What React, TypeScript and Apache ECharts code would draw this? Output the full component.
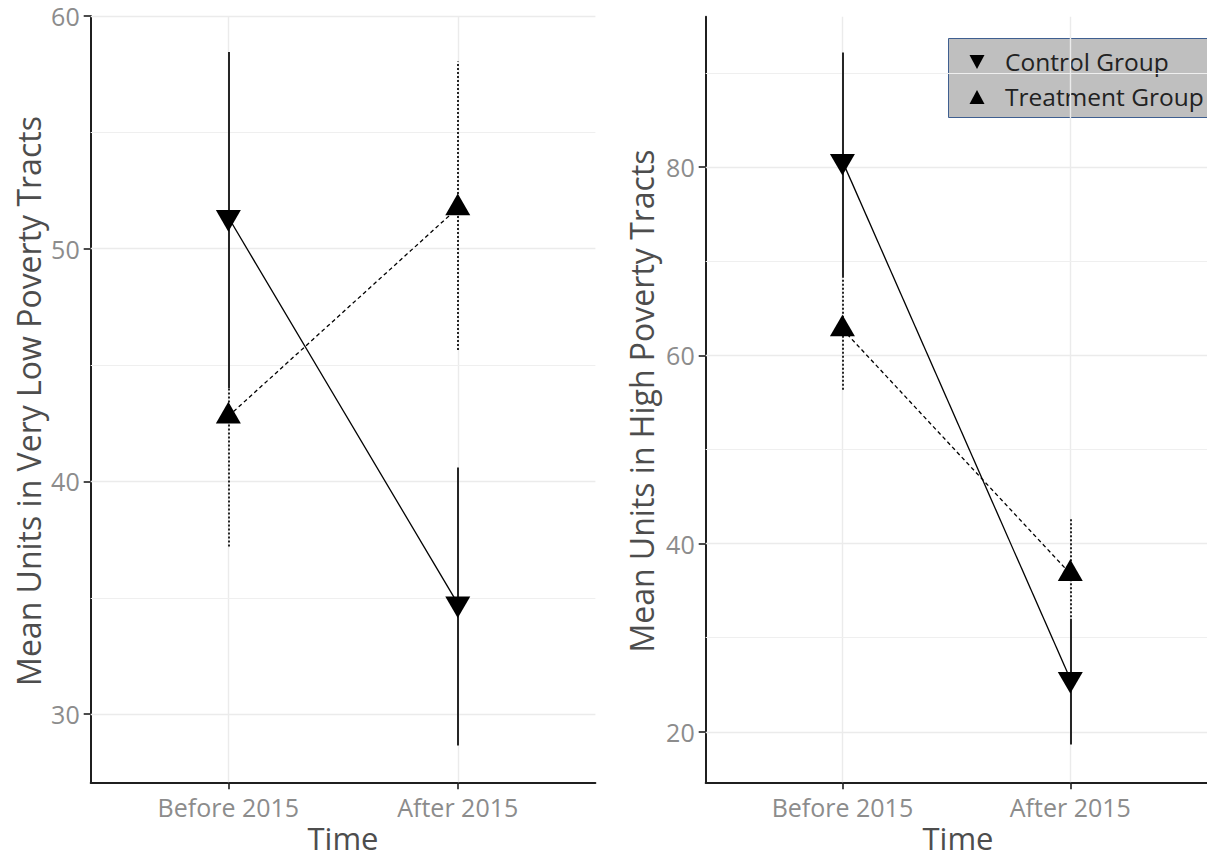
import React, { useEffect, useRef } from "react";
import * as echarts from "echarts";

// Discrete time periods, placed at positions 1 and 2 on each panel's x scale
const categories = ["Before 2015", "After 2015"];
const catPositions = [1, 2];

// Panel 1: very low poverty tracts (mean and interval ends)
const lowCtrlMean = [51.35, 34.75];
const lowCtrlLo = [44.0, 28.65];
const lowCtrlHi = [58.45, 40.6];
const lowTrtMean = [42.8, 51.75];
const lowTrtLo = [37.2, 45.65];
const lowTrtHi = [48.35, 58.05];

// Panel 2: high poverty tracts
const highCtrlMean = [80.65, 25.6];
const highCtrlLo = [68.4, 18.65];
const highCtrlHi = [92.2, 32.0];
const highTrtMean = [62.8, 36.8];
const highTrtLo = [56.35, 30.9];
const highTrtHi = [69.2, 42.7];

// Axis ticks and gridlines
const lowTicks = [30, 40, 50, 60];
const lowMinor = [35, 45, 55];
const lowRange = [27.07, 60];
const highTicks = [20, 40, 60, 80];
const highMinor = [30, 50, 70, 90];
const highRange = [14.63, 96.0];

const groupNames = ["Control Group", "Treatment Group"];
const yTitles = [
  "Mean Units in Very Low Poverty Tracts",
  "Mean Units in High Poverty Tracts",
];
const xTitle = "Time";

const FONT = "'Open Sans', 'Noto Sans', sans-serif";
const TICK_COLOR = "#8c8c8c";
const TITLE_COLOR = "#4d4d4d";
const INK = "#1f1f1f";

const pairs = (xs: number[], ys: number[]) => xs.map((x, i) => [x, ys[i]]);

// vertical interval bars drawn as cartesian line segments
function errorBarSeries(
  name: string,
  idx: number,
  lo: number[],
  hi: number[],
  dash: number[] | "solid"
) {
  return {
    name,
    type: "lines",
    coordinateSystem: "cartesian2d",
    xAxisIndex: idx,
    yAxisIndex: idx,
    z: 3,
    silent: true,
    polyline: false,
    symbol: "none",
    effect: { show: false },
    data: catPositions.map((x, i) => ({
      coords: [
        [x, lo[i]],
        [x, hi[i]],
      ],
    })),
    lineStyle: { color: "#262626", width: 2, type: dash, opacity: 1 },
  };
}

function meanSeries(name: string, idx: number, data: number[][], down: boolean) {
  return {
    name,
    type: "line",
    xAxisIndex: idx,
    yAxisIndex: idx,
    z: 4,
    data,
    symbol: "triangle",
    symbolSize: [25, 21.6],
    symbolRotate: down ? 180 : 0,
    // keep the triangle's circumcentre on the value
    symbolOffset: [0, down ? 3.6 : -3.6],
    itemStyle: { color: "#000", borderWidth: 0 },
    lineStyle: {
      color: "#000",
      width: 1.3,
      type: down ? "solid" : [4, 3],
    },
  };
}

// panel background grid, kept underneath every mark
function gridSeries(idx: number, major: number[], minor: number[]) {
  return {
    type: "line",
    xAxisIndex: idx,
    yAxisIndex: idx,
    z: 1,
    data: [],
    silent: true,
    markLine: {
      z: 1,
      silent: true,
      symbol: "none",
      animation: false,
      label: { show: false },
      lineStyle: { color: "#ebebeb", width: 1.4, type: "solid" },
      data: [
        ...catPositions.map((v) => ({ xAxis: v })),
        ...major.map((v) => ({ yAxis: v })),
        ...minor.map((v) => ({ yAxis: v, lineStyle: { width: 1, color: "#efefef" } })),
      ],
    },
  };
}

function xAxisFor(idx: number) {
  return {
    type: "value",
    gridIndex: idx,
    min: 0.4,
    max: 2.6,
    splitLine: { show: false },
    axisLine: { show: true, onZero: false, lineStyle: { color: INK, width: 2 } },
    axisTick: {
      show: true,
      customValues: catPositions,
      length: 7,
      lineStyle: { color: INK, width: 1.6 },
    },
    axisLabel: {
      customValues: catPositions,
      formatter: (v: number) => categories[Math.round(v) - 1] ?? "",
      color: TICK_COLOR,
      fontFamily: FONT,
      fontSize: 25,
      margin: 12,
    },
  };
}

function yAxisFor(idx: number, range: number[], ticks: number[]) {
  return {
    type: "value",
    gridIndex: idx,
    min: range[0],
    max: range[1],
    splitLine: { show: false },
    axisLine: { show: true, onZero: false, lineStyle: { color: INK, width: 2 } },
    axisTick: {
      show: true,
      customValues: ticks,
      length: 7,
      lineStyle: { color: INK, width: 1.6 },
    },
    axisLabel: {
      customValues: ticks,
      color: TICK_COLOR,
      fontFamily: FONT,
      fontSize: 25,
      margin: 11,
    },
  };
}

export default function App() {
  const ref = useRef<HTMLDivElement>(null);

  useEffect(() => {
    if (!ref.current) return;
    const chart = echarts.init(ref.current, null, { renderer: "svg" });

    const grids = [
      { left: 90.7, top: 16, width: 504.7, height: 766.3 },
      { left: 705.7, top: 16.7, width: 505, height: 765.6 },
    ];

    const titleText = (
      text: string,
      x: number,
      y: number,
      rotate: boolean,
      size: number
    ) => ({
      type: "text",
      x,
      y,
      rotation: rotate ? Math.PI / 2 : 0,
      z: 50,
      style: {
        text,
        fill: TITLE_COLOR,
        font: `${size}px ${FONT}`,
        align: "center",
        verticalAlign: "middle",
      },
    });

    const legendText = (text: string, y: number) => ({
      type: "text",
      x: 1005,
      y,
      style: {
        text,
        fill: "#222222",
        font: `24.5px ${FONT}`,
        align: "left",
        verticalAlign: "middle",
      },
    });

    chart.setOption({
      animation: false,
      backgroundColor: "#ffffff",
      grid: grids,
      xAxis: [xAxisFor(0), xAxisFor(1)],
      yAxis: [yAxisFor(0, lowRange, lowTicks), yAxisFor(1, highRange, highTicks)],
      series: [
        gridSeries(0, lowTicks, lowMinor),
        gridSeries(1, highTicks, highMinor),
        errorBarSeries(groupNames[1], 0, lowTrtLo, lowTrtHi, [2, 2]),
        errorBarSeries(groupNames[0], 0, lowCtrlLo, lowCtrlHi, "solid"),
        errorBarSeries(groupNames[1], 1, highTrtLo, highTrtHi, [2, 2]),
        errorBarSeries(groupNames[0], 1, highCtrlLo, highCtrlHi, "solid"),
        meanSeries(groupNames[1], 0, pairs(catPositions, lowTrtMean), false),
        meanSeries(groupNames[0], 0, pairs(catPositions, lowCtrlMean), true),
        meanSeries(groupNames[1], 1, pairs(catPositions, highTrtMean), false),
        meanSeries(groupNames[0], 1, pairs(catPositions, highCtrlMean), true),
      ],
      graphic: [
        titleText(yTitles[0], 28, 401, true, 32),
        titleText(yTitles[1], 641, 401, true, 32),
        titleText(xTitle, 343, 838, false, 31),
        titleText(xTitle, 958, 838, false, 31),
        // legend box
        {
          type: "group",
          z: 100,
          children: [
            {
              type: "rect",
              shape: { x: 948.5, y: 38.5, width: 300, height: 79 },
              style: { fill: "#bfbfbf", stroke: "#3f5f90", lineWidth: 1 },
            },
            {
              type: "polygon",
              shape: { points: [[969.5, 55], [984.5, 55], [977, 69]] },
              style: { fill: "#000" },
            },
            {
              type: "polygon",
              shape: { points: [[969.5, 104], [984.5, 104], [977, 90]] },
              style: { fill: "#000" },
            },
            legendText(groupNames[0], 61),
            legendText(groupNames[1], 96),
          ],
        },
      ],
    });

    return () => chart.dispose();
  }, []);

  return (
    <div
      ref={ref}
      style={{ position: "fixed", left: 0, top: 0, width: 1207, height: 859 }}
    />
  );
}
